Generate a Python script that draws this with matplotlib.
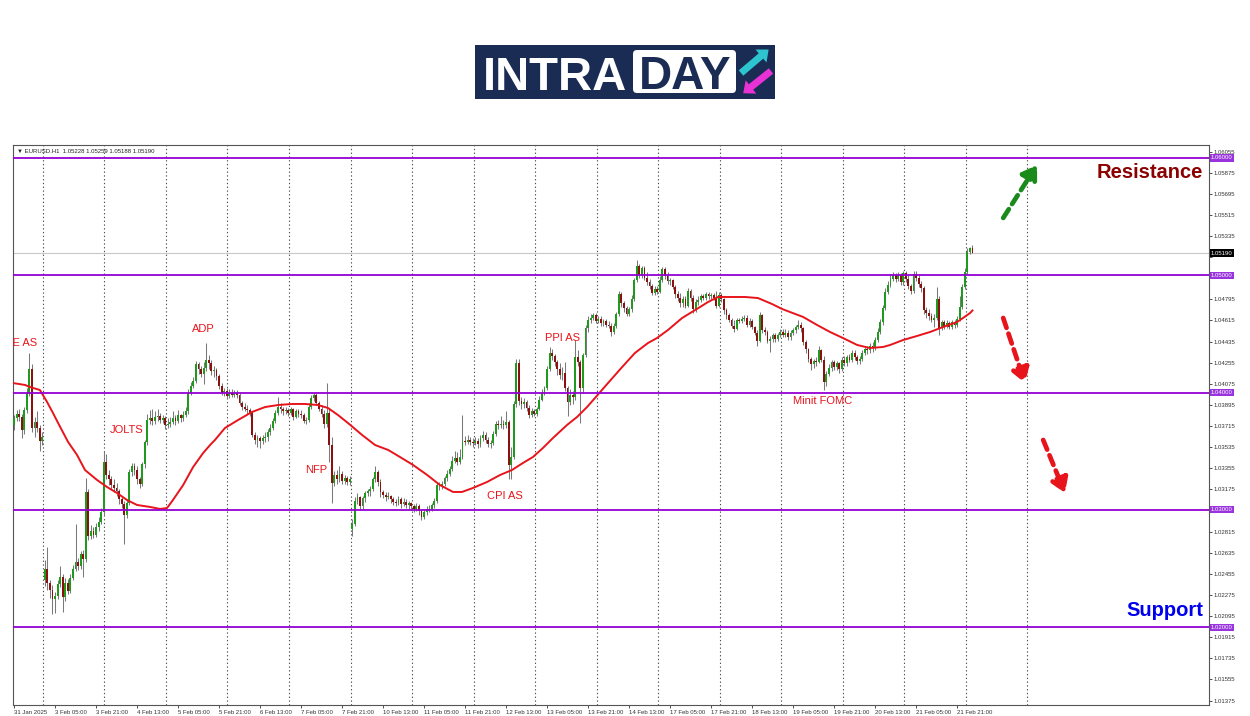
import numpy as np
import matplotlib
matplotlib.use("Agg")
import matplotlib.pyplot as plt
from matplotlib.patches import Rectangle, FancyBboxPatch, FancyArrow
from matplotlib.transforms import blended_transform_factory

# EURUSD H1, 31 Jan 2025 12:00 -> 21 Feb 2025, prices in pips above 1.0000
closes = [
    378, 382, 379, 368, 385, 400, 420, 370, 375, 370, 359, 362, 250, 238, 232, 224, 227, 237, 243, 226, 238, 231, 242, 250, 256,
    252, 262, 258, 315, 278, 282, 279, 285, 290, 298, 341, 330, 326, 321, 319, 316, 309, 305, 296, 306, 332, 337, 334, 326, 322,
    339, 358, 377, 378, 376, 379, 380, 377, 378, 372, 373, 375, 378, 376, 381, 378, 381, 384, 400, 406, 410, 424, 420, 416, 421,
    428, 425, 418, 419, 414, 406, 400, 401, 397, 400, 398, 400, 398, 391, 388, 386, 385, 383, 364, 360, 361, 359, 361, 362, 366,
    370, 376, 383, 388, 386, 384, 385, 383, 386, 379, 384, 382, 381, 376, 377, 388, 395, 398, 391, 386, 382, 373, 383, 355, 323,
    330, 326, 331, 325, 327, 324, 326, 288, 308, 311, 303, 310, 314, 316, 318, 326, 332, 324, 315, 313, 311, 312, 309, 307, 306,
    309, 305, 307, 304, 306, 303, 301, 303, 299, 294, 298, 301, 300, 304, 308, 321, 320, 322, 327, 331, 335, 342, 344, 341, 345,
    359, 358, 360, 358, 357, 359, 356, 361, 364, 360, 356, 357, 365, 373, 372, 373, 372, 375, 338, 345, 390, 425, 393, 390, 392,
    387, 381, 384, 382, 386, 394, 400, 404, 420, 434, 431, 426, 420, 415, 417, 404, 392, 398, 396, 430, 426, 404, 432, 455, 462,
    464, 466, 461, 463, 459, 461, 458, 457, 452, 457, 467, 484, 476, 472, 467, 471, 480, 496, 508, 500, 506, 498, 494, 491, 485,
    488, 486, 496, 505, 499, 495, 496, 490, 484, 481, 476, 480, 474, 487, 481, 471, 477, 479, 482, 481, 484, 482, 483, 481, 474,
    483, 480, 470, 466, 462, 457, 454, 462, 461, 463, 464, 458, 461, 456, 451, 444, 466, 453, 452, 444, 446, 449, 446, 449, 452,
    449, 451, 447, 451, 453, 456, 458, 455, 443, 437, 429, 424, 427, 426, 436, 428, 409, 416, 421, 426, 422, 425, 420, 428, 425,
    430, 428, 434, 430, 427, 429, 434, 437, 436, 440, 438, 445, 452, 460, 472, 486, 492, 497, 500, 497, 500, 494, 502, 497, 491,
    487, 501, 498, 493, 489, 470, 468, 465, 462, 464, 480, 455, 460, 457, 459, 456, 460, 458, 463, 473, 490, 503, 520, 523, 519,
]
highs = [
    381, 385, 386, 382, 388, 404, 434, 424, 379, 384, 372, 366, 257, 268, 240, 236, 230, 240, 252, 245, 242, 241, 245, 253, 288,
    259, 265, 266, 327, 318, 287, 285, 289, 294, 302, 350, 348, 334, 329, 326, 323, 318, 312, 308, 309, 335, 340, 340, 337, 328,
    341, 360, 382, 385, 386, 384, 386, 383, 381, 380, 378, 379, 384, 381, 385, 382, 384, 388, 403, 409, 413, 427, 426, 423, 426,
    442, 432, 428, 423, 421, 416, 408, 404, 404, 403, 403, 402, 402, 400, 393, 391, 389, 387, 384, 366, 364, 363, 364, 366, 369,
    373, 378, 385, 396, 391, 388, 388, 387, 388, 387, 386, 386, 385, 383, 379, 391, 398, 400, 400, 393, 389, 385, 408, 387, 362,
    333, 334, 337, 333, 330, 329, 329, 292, 311, 314, 312, 312, 316, 318, 320, 328, 337, 334, 326, 317, 315, 315, 313, 311, 309,
    312, 311, 310, 309, 308, 307, 305, 306, 305, 301, 301, 303, 304, 306, 310, 324, 324, 325, 329, 334, 337, 346, 350, 349, 352,
    381, 363, 364, 362, 361, 362, 361, 364, 367, 366, 362, 360, 367, 376, 377, 380, 377, 384, 377, 354, 393, 429, 429, 396, 395,
    394, 389, 387, 386, 388, 397, 403, 406, 423, 439, 437, 433, 428, 425, 422, 426, 406, 403, 401, 445, 436, 428, 434, 458, 465,
    467, 468, 468, 465, 465, 463, 463, 461, 459, 459, 469, 487, 486, 478, 474, 473, 483, 498, 513, 510, 508, 508, 503, 497, 493,
    491, 491, 499, 507, 507, 503, 498, 497, 492, 487, 485, 482, 482, 489, 488, 483, 480, 482, 484, 484, 486, 486, 485, 485, 487,
    486, 485, 481, 472, 468, 464, 462, 464, 464, 465, 466, 466, 464, 463, 457, 453, 469, 467, 456, 453, 448, 451, 451, 451, 454,
    454, 454, 453, 453, 455, 458, 462, 460, 456, 445, 438, 430, 429, 430, 440, 437, 431, 418, 424, 428, 428, 427, 426, 430, 431,
    432, 433, 436, 436, 432, 431, 436, 439, 440, 442, 443, 447, 455, 463, 475, 489, 495, 501, 503, 502, 503, 502, 504, 504, 500,
    493, 504, 504, 500, 495, 491, 473, 471, 468, 467, 490, 482, 462, 462, 462, 461, 462, 462, 465, 482, 493, 506, 523, 524, 526,
]
lows = [
    368, 376, 376, 361, 365, 383, 397, 366, 362, 366, 350, 355, 235, 232, 225, 211, 212, 224, 234, 213, 222, 228, 229, 240, 248,
    249, 250, 243, 256, 274, 275, 276, 277, 282, 288, 296, 326, 321, 318, 315, 312, 305, 302, 271, 293, 304, 329, 330, 322, 319,
    320, 336, 355, 373, 372, 373, 376, 374, 374, 369, 370, 371, 373, 372, 374, 375, 376, 379, 382, 398, 404, 408, 416, 413, 407,
    418, 420, 415, 413, 411, 403, 398, 397, 395, 395, 396, 396, 395, 389, 385, 384, 382, 380, 362, 356, 354, 353, 356, 358, 359,
    364, 368, 374, 381, 383, 381, 382, 380, 381, 377, 378, 379, 378, 374, 373, 375, 386, 393, 389, 384, 379, 370, 371, 341, 306,
    320, 322, 324, 322, 322, 321, 321, 278, 286, 305, 300, 301, 307, 312, 312, 316, 324, 320, 311, 310, 308, 309, 306, 304, 303,
    304, 302, 303, 302, 301, 300, 298, 299, 296, 291, 292, 296, 298, 299, 302, 306, 317, 318, 320, 325, 329, 333, 340, 338, 339,
    343, 355, 356, 355, 354, 355, 353, 354, 359, 357, 354, 353, 355, 363, 369, 370, 369, 370, 326, 326, 343, 388, 389, 386, 387,
    384, 378, 379, 380, 380, 385, 393, 398, 402, 418, 428, 423, 415, 412, 411, 401, 380, 389, 390, 394, 423, 374, 400, 430, 452,
    459, 462, 459, 459, 457, 457, 456, 455, 448, 450, 455, 465, 473, 469, 465, 465, 469, 478, 494, 498, 498, 496, 492, 488, 483,
    483, 484, 485, 494, 497, 493, 492, 488, 481, 478, 473, 473, 472, 473, 478, 468, 469, 475, 477, 479, 479, 480, 480, 479, 472,
    473, 477, 467, 463, 460, 455, 452, 453, 459, 459, 461, 456, 456, 454, 449, 440, 443, 451, 449, 442, 435, 443, 443, 444, 447,
    447, 447, 445, 445, 449, 451, 454, 452, 441, 434, 426, 419, 421, 423, 425, 426, 402, 406, 414, 418, 419, 419, 417, 418, 423,
    423, 426, 426, 428, 424, 424, 427, 432, 433, 434, 435, 436, 443, 450, 458, 470, 484, 490, 495, 494, 495, 492, 492, 494, 488,
    484, 485, 495, 490, 486, 467, 464, 462, 460, 456, 462, 449, 453, 454, 455, 454, 454, 455, 456, 461, 471, 488, 501, 518, 519,
]
first_open = 372
gap_opens = {12: 240, 132: 284}  # monday opens after the weekend gap

# moving average (red line): bar position / level in pips
ma_bar = [0, 4.3, 6.2, 10.1, 12.9, 15.2, 18, 21.1, 24.6, 27.7,
          32.4, 36.3, 40.2, 44.1, 48, 53.1, 57, 59.7, 62, 66,
          69.9, 73.8, 76.5, 78.4, 82.3, 87.4, 92.9, 98, 103, 108.5,
          113.6, 118.6, 122.5, 126.4, 130.3, 135.8, 140.9, 146, 150.6, 155.7,
          161.2, 166.2, 171.3, 174.8, 179.1, 184.6, 189.7, 194.3, 198.6, 202.5,
          206.4, 210.3, 215.8, 219.7, 223.6, 226.7, 231.8, 237.3, 242.3, 247.4,
          250.9, 255.2, 260.7, 265.8, 270.8, 274.7, 278.6, 285.3, 290.3, 295.8,
          299.7, 302.8, 307.9, 313.4, 318.4, 323.5, 329, 334, 339.1, 341.9,
          346.9, 352.4, 357.5, 362.5, 368, 370.3, 373.1, 374]
ma_level = [408, 406.5, 404.8, 402.2, 392, 382.6, 370.7, 357.9, 346.8, 334,
            325.5, 319.5, 314.4, 308.4, 304.2, 302.5, 300.8, 301.6, 308.4, 321.2,
            336.6, 348.5, 355.3, 359.6, 369.8, 376.6, 383.5, 387.7, 389.4, 390.3,
            390.3, 389.4, 386.9, 380.9, 374.1, 363.9, 355.3, 351.1, 345.1, 338.3,
            329.8, 321.2, 315.3, 315.3, 318.7, 323.8, 329.8, 334, 340, 345.1,
            352.8, 361.3, 372.4, 379.2, 387.7, 395.4, 408.2, 421.8, 433.8, 442.3,
            446.5, 453.4, 463.6, 470.4, 477.2, 481.5, 481.5, 481.5, 480.6, 475.5,
            471.3, 468.7, 464.5, 457.6, 451.7, 446.5, 440.6, 438, 438.9, 440.6,
            444.8, 448.3, 451.7, 455.9, 460.2, 463.6, 467.9, 470]

levels = [1.02, 1.03, 1.04, 1.05, 1.06]
last_price = 1.05190
time_labels = ['31 Jan 2025', '3 Feb 05:00', '3 Feb 21:00', '4 Feb 13:00', '5 Feb 05:00',
               '5 Feb 21:00', '6 Feb 13:00', '7 Feb 05:00', '7 Feb 21:00', '10 Feb 13:00',
               '11 Feb 05:00', '11 Feb 21:00', '12 Feb 13:00', '13 Feb 05:00', '13 Feb 21:00',
               '14 Feb 13:00', '17 Feb 05:00', '17 Feb 21:00', '18 Feb 13:00', '19 Feb 05:00',
               '19 Feb 21:00', '20 Feb 13:00', '21 Feb 05:00', '21 Feb 21:00']
events = ['PCE AS', 'ADP', 'JOLTS', 'NFP', 'CPI AS', 'PPI AS', 'Minit FOMC']
event_bar = [9, 73.8, 44.1, 117.9, 191.6, 213.9, 315.7]
event_pips = [442, 454, 368, 334, 312, 446.5, 393]

FONT = ['Liberation Sans', 'DejaVu Sans']


def px(v):
    return 1 + np.asarray(v, dtype=float) / 10000.0


closes_p = px(closes)
highs_p = px(highs)
lows_p = px(lows)
opens_list = [first_open] + closes[:-1]
for i, v in gap_opens.items():
    opens_list[i] = v
opens_p = px(opens_list)
xs = np.arange(len(closes))

fig = plt.figure(figsize=(12.5, 7.16), dpi=100)
ax = fig.add_axes([13 / 1250, 11 / 716, 1196 / 1250, 560 / 716])
ax.set_xlim(-0.4, 466.3)
ax.set_ylim(1.013367, 1.061108)

# day grid
for k in range(17):
    ax.axvline(11.3 + 24 * k, color='#505050', lw=0.8, ls=(0, (1.2, 2.2)), zorder=0)

ax.axhline(last_price, color='#c8c8c8', lw=0.8, zorder=1)

# candles
up = closes_p >= opens_p
body_col = np.where(up, '#1f9a1f', '#8b1010')
ax.vlines(xs, lows_p, highs_p, color='#7a7a7a', lw=0.75, zorder=2)
height = closes_p - opens_p
height = np.where(np.abs(height) < 0.00002, 0.00002, height)
ax.bar(xs, height, bottom=opens_p, width=0.72, color=body_col, linewidth=0, zorder=3)

ax.plot(ma_bar, px(ma_level), color='#e8141b', lw=1.4, zorder=4)

for lv in levels:
    ax.axhline(lv, color='#9400d3', lw=1.3, zorder=5)

for name, b, p in zip(events, event_bar, event_pips):
    ha = 'right' if name == 'PCE AS' else 'center'
    ax.text(b, px(p), name, color='#e8141b', fontsize=8, ha=ha, va='center',
            family=FONT, clip_on=True, zorder=6)

ax.text(464, px(588), 'Resistance', color='#8b0000', fontsize=14.5, fontweight='bold',
        ha='right', va='center', family=FONT)
ax.text(464, px(214), 'Support', color='#0000ee', fontsize=14.5, fontweight='bold',
        ha='right', va='center', family=FONT)

# projection arrows
arrows = [((386.0, 548.9), (399.2, 594.1), '#1a8a1a'),
          ((386.0, 463.6), (394.5, 408.2), '#e8141b'),
          ((401.6, 359.6), (410.1, 314.4), '#e8141b')]
for (x0, y0), (x1, y1), c in arrows:
    ax.annotate('', xy=(x1, px(y1)), xytext=(x0, px(y0)),
                arrowprops=dict(arrowstyle='-|>,head_length=0.7,head_width=0.45', lw=3.4,
                                ls=(0, (2.2, 1.3)), color=c, mutation_scale=12,
                                shrinkA=0, shrinkB=0), zorder=6)

ax.text(0.003, 0.988, '\u25bc EURUSD.H1  1.05228 1.05259 1.05188 1.05190', transform=ax.transAxes,
        fontsize=4.3, ha='left', va='center', family=FONT, color='#222222')

# axes styling
ax.yaxis.tick_right()
yt = np.arange(1.01375, 1.0607, 0.0018)
marked = levels + [last_price]
ylabels = ['' if min(abs(t - m) for m in marked) < 0.0004 else f'{t:.5f}' for t in yt]
ax.set_yticks(yt)
ax.set_yticklabels(ylabels, family=FONT)
ax.set_xticks(np.arange(len(time_labels)) * 16)
ax.set_xticklabels(time_labels, family=FONT)
for lbl in ax.get_xticklabels():
    lbl.set_ha('left')
ax.tick_params(axis='both', labelsize=4.3, length=2, width=0.6, pad=1.5, colors='#333333')
for s in ax.spines.values():
    s.set_color('#555555')
    s.set_linewidth(0.8)

tr = blended_transform_factory(ax.transAxes, ax.transData)
for lv in levels:
    ax.text(1.0015, lv, f'{lv:.5f}', transform=tr, fontsize=4.3, color='white', family=FONT,
            ha='left', va='center', clip_on=False, zorder=7,
            bbox=dict(boxstyle='square,pad=0.18', fc='#9933dd', ec='none'))
ax.text(1.0015, last_price, f'{last_price:.5f}', transform=tr, fontsize=4.3, color='white',
        family=FONT, ha='left', va='center', clip_on=False, zorder=7,
        bbox=dict(boxstyle='square,pad=0.18', fc='black', ec='none'))

# logo
ov = fig.add_axes([0, 0, 1, 1], zorder=10)
ov.set_xlim(0, 1250)
ov.set_ylim(716, 0)
ov.axis('off')
navy = '#1b2c54'
ov.add_patch(Rectangle((475, 45), 300, 54, fc=navy, ec='none'))
ov.text(483, 90, 'INTRA', color='white', fontsize=34, fontweight='bold', family=FONT,
        ha='left', va='baseline')
ov.add_patch(FancyBboxPatch((633, 50), 103, 43, boxstyle='round,pad=0,rounding_size=4',
                            fc='white', ec='none'))
ov.text(685, 89, 'DAY', color=navy, fontsize=33, fontweight='bold', family=FONT,
        ha='center', va='baseline')
ov.add_patch(FancyArrow(741, 73, 20, -17, width=7, head_width=17, head_length=10,
                        length_includes_head=False, fc='#2ec4cf', ec='none'))
ov.add_patch(FancyArrow(771, 71, -20, 16, width=7, head_width=17, head_length=10,
                        length_includes_head=False, fc='#e832d5', ec='none'))

fig.savefig('out.png', dpi=100)
